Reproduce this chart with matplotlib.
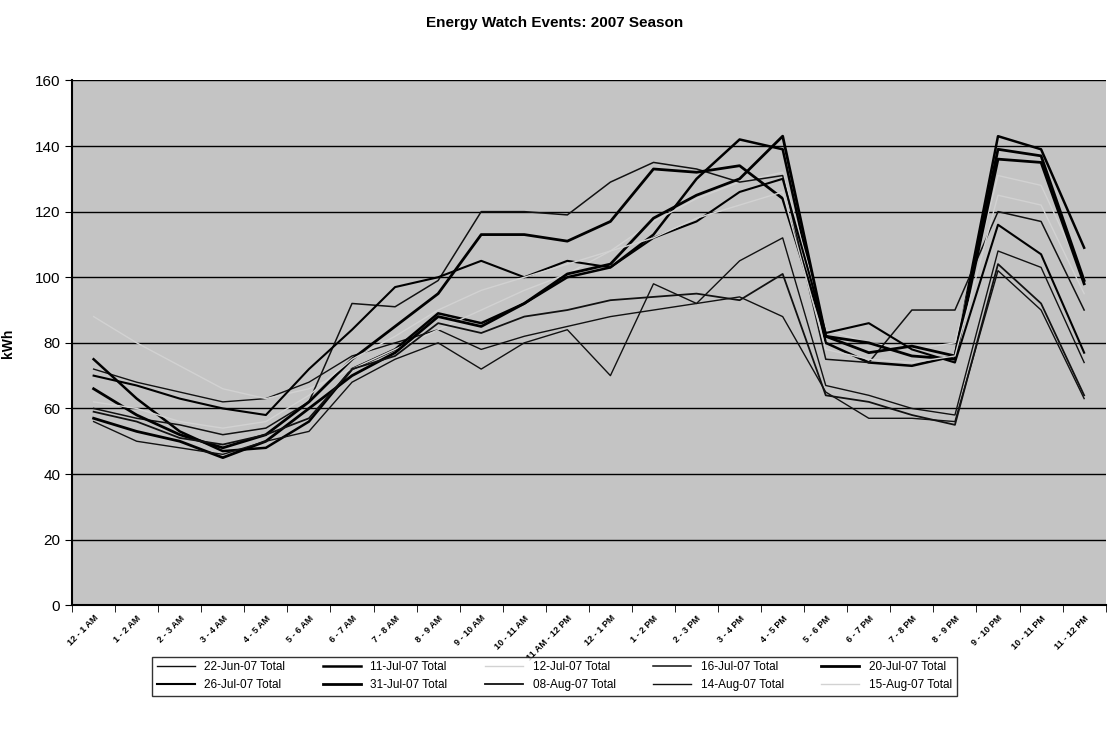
import matplotlib
matplotlib.use("Agg")
import matplotlib.pyplot as plt
import numpy as np

plt.rcParams['font.family'] = ['Liberation Sans', 'DejaVu Sans']

# hourly categories
hours = ["12 - 1 AM", "1 - 2 AM", "2 - 3 AM", "3 - 4 AM", "4 - 5 AM", "5 - 6 AM",
         "6 - 7 AM", "7 - 8 AM", "8 - 9 AM", "9 - 10 AM", "10 - 11 AM", "11 AM - 12 PM",
         "12 - 1 PM", "1 - 2 PM", "2 - 3 PM", "3 - 4 PM", "4 - 5 PM", "5 - 6 PM",
         "6 - 7 PM", "7 - 8 PM", "8 - 9 PM", "9 - 10 PM", "10 - 11 PM", "11 - 12 PM"]

# kWh per event day
jun22 = [72, 68, 65, 62, 63, 68, 76, 80, 84, 78, 82, 85, 88, 90, 92, 94, 88, 65, 57, 57, 56, 102, 90, 63]
jul11 = [75, 63, 53, 47, 48, 56, 72, 78, 89, 86, 92, 100, 103, 113, 130, 142, 139, 80, 74, 73, 76, 143, 139, 109]
jul12 = [88, 80, 73, 66, 63, 66, 72, 78, 84, 90, 96, 101, 108, 117, 124, 129, 132, 84, 80, 78, 80, 131, 128, 100]
jul16 = [60, 57, 55, 52, 54, 62, 92, 91, 99, 120, 120, 119, 129, 135, 133, 129, 131, 75, 74, 90, 90, 120, 117, 90]
jul20 = [66, 58, 52, 48, 52, 62, 75, 85, 95, 113, 113, 111, 117, 133, 132, 134, 124, 82, 80, 76, 75, 136, 135, 98]
jul26 = [70, 67, 63, 60, 58, 72, 84, 97, 100, 105, 100, 105, 103, 112, 117, 126, 130, 83, 86, 78, 74, 116, 107, 77]
jul31 = [57, 53, 50, 45, 50, 60, 70, 77, 88, 85, 92, 101, 104, 118, 125, 130, 143, 82, 77, 79, 76, 139, 137, 99]
aug08 = [59, 56, 51, 49, 52, 57, 72, 76, 86, 83, 88, 90, 93, 94, 95, 93, 101, 64, 62, 58, 55, 104, 92, 64]
aug14 = [56, 50, 48, 46, 50, 53, 68, 75, 80, 72, 80, 84, 70, 98, 92, 105, 112, 67, 64, 60, 58, 108, 103, 74]
aug15 = [62, 60, 56, 54, 56, 64, 75, 82, 90, 96, 100, 104, 108, 112, 118, 122, 126, 78, 75, 74, 76, 125, 122, 95]

series = [
    ("22-Jun-07 Total", jun22, "#111111", 1.0),
    ("11-Jul-07 Total", jul11, "#000000", 1.8),
    ("12-Jul-07 Total", jul12, "#d2d2d2", 1.0),
    ("16-Jul-07 Total", jul16, "#111111", 1.1),
    ("20-Jul-07 Total", jul20, "#000000", 2.0),
    ("26-Jul-07 Total", jul26, "#000000", 1.5),
    ("31-Jul-07 Total", jul31, "#000000", 2.0),
    ("08-Aug-07 Total", aug08, "#111111", 1.3),
    ("14-Aug-07 Total", aug14, "#111111", 1.0),
    ("15-Aug-07 Total", aug15, "#d2d2d2", 1.0),
]

fig = plt.figure(figsize=(11.09, 7.31), dpi=100)
ax = fig.add_axes([0.065, 0.172, 0.932, 0.718])
ax.set_facecolor("#c4c4c4")

x = np.arange(len(hours))
for name, vals, col, lw in series:
    ax.plot(x, vals, color=col, lw=lw, label=name, zorder=3)

ax.set_xlim(-0.5, len(hours) - 0.5)
ax.set_ylim(0, 160)
ax.set_yticks(np.arange(0, 161, 20))
ax.yaxis.grid(True, color="black", lw=1.0)
ax.set_axisbelow(True)
ax.tick_params(axis="y", direction="out", length=5, labelsize=11)

ax.set_xticks(x)
ax.set_xticklabels(hours, rotation=45, ha="right", rotation_mode="anchor",
                   fontsize=6.5, fontweight="bold")
ax.tick_params(axis="x", length=0, pad=6)
ax.set_xticks(np.arange(-0.5, len(hours), 1), minor=True)
ax.tick_params(axis="x", which="minor", length=5, direction="out")

for s in ["top", "right"]:
    ax.spines[s].set_visible(False)
ax.spines["left"].set_lw(1.5)
ax.spines["bottom"].set_lw(1.5)

ax.set_ylabel("kWh", fontsize=10, fontweight="bold", labelpad=14)
fig.text(0.5, 0.968, "Energy Watch Events: 2007 Season", ha="center", va="center",
         fontsize=11, fontweight="bold")

# legend fills column-wise, so reorder to read row-wise like the original
handles, labels = ax.get_legend_handles_labels()
order = [0, 5, 1, 6, 2, 7, 3, 8, 4, 9]
leg = fig.legend([handles[i] for i in order], [labels[i] for i in order],
                 loc="center", bbox_to_anchor=(0.5, 0.075), ncol=5, fontsize=8.5,
                 frameon=True, fancybox=False, edgecolor="black", handlelength=3.2,
                 columnspacing=3.2, borderpad=0.4, labelspacing=0.5)
leg.get_frame().set_linewidth(1.0)

fig.savefig("out.png", dpi=100)
